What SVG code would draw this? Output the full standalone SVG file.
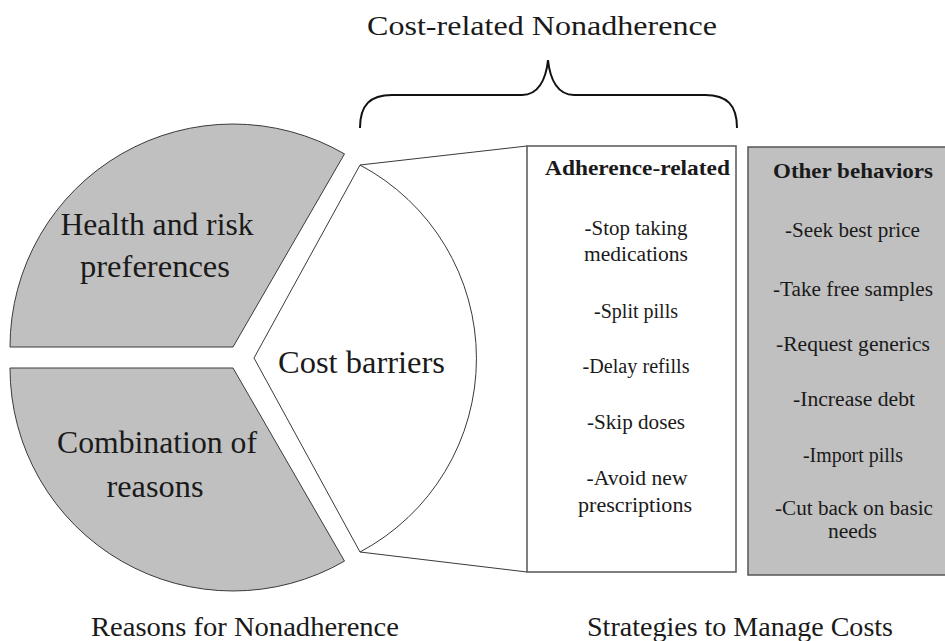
<svg xmlns="http://www.w3.org/2000/svg" width="945" height="641" viewBox="0 0 945 641">
<style>
  .seg { fill: #c0c0c0; stroke: #3a3a3a; stroke-width: 1; }
  .wseg { fill: #ffffff; stroke: #3a3a3a; stroke-width: 1; }
  .box { fill: #ffffff; stroke: #555555; stroke-width: 1.5; }
  .gbox { fill: #c0c0c0; stroke: #555555; stroke-width: 1.5; }
  .conn { fill: none; stroke: #3a3a3a; stroke-width: 1; }
  .brace { fill: none; stroke: #111111; stroke-width: 2; }
  text { font-family: "Liberation Serif", "Times New Roman", serif; fill: #1a1a1a; text-anchor: middle; }
  .big { font-size: 31px; }
  .lbl { font-size: 28px; }
  .hdr { font-size: 22px; font-weight: bold; }
  .item { font-size: 20px; }
</style>
<rect width="945" height="641" fill="#ffffff"/>

<g id="title">
  <text class="lbl" x="542" y="35" textLength="350" lengthAdjust="spacingAndGlyphs">Cost-related Nonadherence</text>
</g>

<g id="health">
  <path class="seg" d="M 10,347 L 233,347 L 344.5,153.9 A 223 223 0 0 0 10,347 Z"/>
  <text class="big" x="157" y="235" textLength="193" lengthAdjust="spacingAndGlyphs">Health and risk</text>
  <text class="big" x="155" y="277" textLength="150" lengthAdjust="spacingAndGlyphs">preferences</text>
</g>

<g id="combination">
  <path class="seg" d="M 10,368 L 233,368 L 344.5,561.1 A 223 223 0 0 1 10,368 Z"/>
  <text class="big" x="157" y="453" textLength="200" lengthAdjust="spacingAndGlyphs">Combination of</text>
  <text class="big" x="155" y="497" textLength="97" lengthAdjust="spacingAndGlyphs">reasons</text>
</g>

<g id="cost-barriers">
  <path class="wseg" d="M 254,358 L 360,165 A 219 219 0 0 1 360,552 Z"/>
  <text x="361.5" y="373" font-size="32" textLength="167" lengthAdjust="spacingAndGlyphs">Cost barriers</text>
</g>

<g id="connectors">
  <path class="brace" d="M 360,128 C 360,105 370,95 392,95 L 522,95 C 538,95 546,80 548,60 C 550,80 558,95 574,95 L 705,95 C 727,95 737,105 737,128"/>
  <line class="conn" x1="360" y1="165" x2="527" y2="146"/>
  <line class="conn" x1="360" y1="552" x2="527" y2="572"/>
</g>

<g id="adherence-related">
  <rect class="box" x="527" y="146" width="209" height="426"/>
  <text class="hdr" x="637.5" y="175" textLength="185" lengthAdjust="spacingAndGlyphs">Adherence-related</text>
  <text class="item" x="636" y="235" textLength="103" lengthAdjust="spacingAndGlyphs">-Stop taking</text>
  <text class="item" x="636" y="261" textLength="104" lengthAdjust="spacingAndGlyphs">medications</text>
  <text class="item" x="636" y="318" textLength="84" lengthAdjust="spacingAndGlyphs">-Split pills</text>
  <text class="item" x="636" y="373" textLength="107" lengthAdjust="spacingAndGlyphs">-Delay refills</text>
  <text class="item" x="636" y="429" textLength="98" lengthAdjust="spacingAndGlyphs">-Skip doses</text>
  <text class="item" x="637" y="485" textLength="101" lengthAdjust="spacingAndGlyphs">-Avoid new</text>
  <text class="item" x="635" y="512" textLength="114" lengthAdjust="spacingAndGlyphs">prescriptions</text>
</g>

<g id="other-behaviors">
  <rect class="gbox" x="748" y="147" width="212" height="428"/>
  <text class="hdr" x="853" y="178" textLength="160" lengthAdjust="spacingAndGlyphs">Other behaviors</text>
  <text class="item" x="852.5" y="237" textLength="135" lengthAdjust="spacingAndGlyphs">-Seek best price</text>
  <text class="item" x="853" y="296" textLength="160" lengthAdjust="spacingAndGlyphs">-Take free samples</text>
  <text class="item" x="853" y="351" textLength="154" lengthAdjust="spacingAndGlyphs">-Request generics</text>
  <text class="item" x="854" y="406" textLength="122" lengthAdjust="spacingAndGlyphs">-Increase debt</text>
  <text class="item" x="853" y="462" textLength="100" lengthAdjust="spacingAndGlyphs">-Import pills</text>
  <text class="item" x="854" y="515" textLength="158" lengthAdjust="spacingAndGlyphs">-Cut back on basic</text>
  <text class="item" x="852.5" y="538" textLength="49" lengthAdjust="spacingAndGlyphs">needs</text>
</g>

<g id="reasons-label">
  <text class="lbl" x="245" y="636" textLength="308" lengthAdjust="spacingAndGlyphs">Reasons for Nonadherence</text>
</g>

<g id="strategies-label">
  <text class="lbl" x="740" y="636" textLength="306" lengthAdjust="spacingAndGlyphs">Strategies to Manage Costs</text>
</g>
</svg>
